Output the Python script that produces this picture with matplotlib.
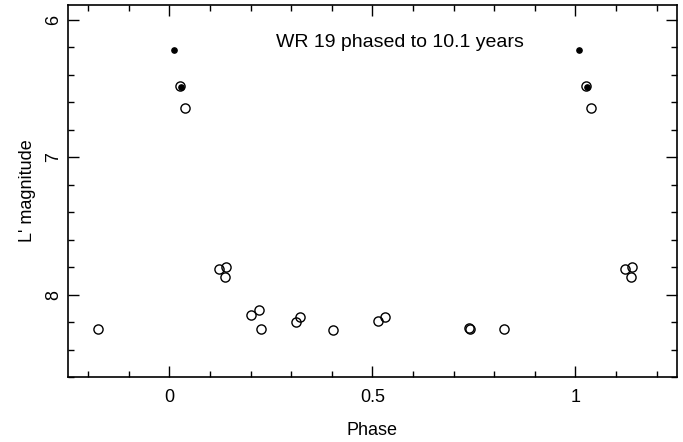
#!/usr/bin/env python3
"""
WR 19 L' light curve phased to a 10.1 year period
"""

import matplotlib
matplotlib.use("Agg")
import matplotlib.pyplot as plt
from matplotlib.ticker import MultipleLocator

plt.rcParams['font.family'] = ['Liberation Sans', 'DejaVu Sans']

# open circles (phase, L' magnitude); points near phase 0 repeated past 1
open_phase = [-0.177, 0.027, 0.039, 0.121, 0.139, 0.137, 0.201, 0.220, 0.225,
              0.312, 0.321, 0.402, 0.514, 0.531, 0.738, 0.741, 0.825,
              1.027, 1.039, 1.123, 1.139, 1.137]
open_mag = [8.25, 6.48, 6.64, 7.81, 7.80, 7.87, 8.15, 8.11, 8.25,
            8.20, 8.16, 8.26, 8.19, 8.16, 8.24, 8.25, 8.25,
            6.48, 6.64, 7.81, 7.80, 7.87]

# filled dots
dot_phase = [0.010, 0.028, 1.010, 1.028]
dot_mag = [6.22, 6.49, 6.22, 6.49]

title_text = "WR 19 phased to 10.1 years"

fig = plt.figure(figsize=(6.83, 4.42), dpi=100)
ax = fig.add_axes([0.0996, 0.147, 0.8914, 0.842])

ax.plot(open_phase, open_mag, 'o', mfc='none', mec='black', mew=1.0, ms=6.6)
ax.plot(dot_phase, dot_mag, 'o', color='black', ms=3.8)

ax.set_xlim(-0.25, 1.25)
ax.set_ylim(8.6, 5.89)

ax.xaxis.set_minor_locator(MultipleLocator(0.1))
ax.yaxis.set_minor_locator(MultipleLocator(0.2))
ax.set_xticks([0, 0.5, 1])
ax.set_xticklabels(['0', '0.5', '1'])
ax.set_yticks([6, 7, 8])
ax.set_yticklabels(['6', '7', '8'], rotation=90, va='center')

ax.tick_params(which='both', direction='in', top=True, right=True,
               width=1.0, labelsize=13)
ax.tick_params(axis='x', pad=8.5)
ax.tick_params(axis='y', pad=4.5)
ax.tick_params(which='major', length=8)
ax.tick_params(which='minor', length=4)
for s in ax.spines.values():
    s.set_linewidth(1.2)

ax.set_xlabel('Phase', fontsize=13, labelpad=12)
ax.set_ylabel("L' magnitude", fontsize=13, labelpad=6)
ax.text(0.568, 6.167, title_text, ha='center', va='center', fontsize=14)

plt.savefig('out.png', dpi=100)
plt.close()
